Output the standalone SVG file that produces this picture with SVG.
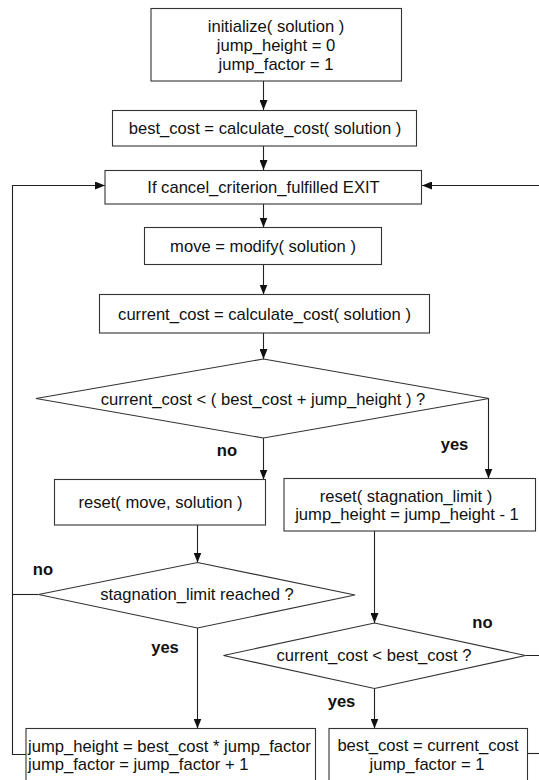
<svg xmlns="http://www.w3.org/2000/svg" width="539" height="780" viewBox="0 0 539 780">
<style>
.box{fill:#fff;stroke:#333;stroke-width:1.1}
.t{font-family:"Liberation Sans",Arial,sans-serif;font-size:16.6px;fill:#111;text-anchor:middle}
.l{text-anchor:start}
.b{font-weight:bold}
.c{fill:none;stroke:#222;stroke-width:1.1}
</style>
<defs>
<marker id="ah" markerUnits="userSpaceOnUse" markerWidth="10" markerHeight="8" refX="10" refY="4" orient="auto">
<path d="M0,0 L10,4 L0,8 z" fill="#111"/>
</marker>
</defs>
<rect width="539" height="780" fill="#fff"/>
<g id="connectors">
<path class="c" d="M263.5,81 V110" marker-end="url(#ah)"/>
<path class="c" d="M263.5,146 V170" marker-end="url(#ah)"/>
<path class="c" d="M263.5,204 V227.5" marker-end="url(#ah)"/>
<path class="c" d="M263.5,264.5 V294.5" marker-end="url(#ah)"/>
<path class="c" d="M263.5,333 V359" marker-end="url(#ah)"/>
<path class="c" d="M263.5,438 V479.5" marker-end="url(#ah)"/>
<path class="c" d="M488.5,398.5 V478.5" marker-end="url(#ah)"/>
<path class="c" d="M197.5,525 V562.5" marker-end="url(#ah)"/>
<path class="c" d="M374.5,531 V623" marker-end="url(#ah)"/>
<path class="c" d="M197.5,628 V728.5" marker-end="url(#ah)"/>
<path class="c" d="M374.5,688.5 V728.5" marker-end="url(#ah)"/>
<path class="c" d="M38.5,594.5 H12.5"/>
<path class="c" d="M26,754.5 H12.5 V185.5 H105" marker-end="url(#ah)"/>
<path class="c" d="M525.5,655.5 H548 V185.5 H422" marker-end="url(#ah)"/>
<path class="c" d="M527.5,753.5 H548"/>
<text class="t b" x="227" y="456">no</text>
<text class="t b" x="454.5" y="450">yes</text>
<text class="t b" x="43" y="575">no</text>
<text class="t b" x="165" y="653">yes</text>
<text class="t b" x="482.5" y="628">no</text>
<text class="t b" x="341.5" y="707">yes</text>
</g>
<g id="init">
<rect class="box" x="151" y="8.5" width="250.5" height="72.5"/>
<text class="t" x="276" y="32">initialize( solution )</text>
<text class="t" x="276" y="51">jump_height = 0</text>
<text class="t" x="276" y="70">jump_factor = 1</text>
</g>
<g id="bestcost">
<rect class="box" x="112.5" y="110.5" width="304" height="35.5"/>
<text class="t" x="265" y="134">best_cost = calculate_cost( solution )</text>
</g>
<g id="cancel">
<rect class="box" x="105" y="170.5" width="316.5" height="33.5"/>
<text class="t" x="263.5" y="193">If cancel_criterion_fulfilled EXIT</text>
</g>
<g id="move">
<rect class="box" x="144.5" y="227.5" width="237" height="37"/>
<text class="t" x="263" y="252">move = modify( solution )</text>
</g>
<g id="current">
<rect class="box" x="99.5" y="294.5" width="330" height="38.5"/>
<text class="t" x="264.5" y="320">current_cost = calculate_cost( solution )</text>
</g>
<g id="dec1">
<polygon class="box" points="263.5,359 489,398.5 263.5,438 36,398.5"/>
<text class="t" x="263" y="405">current_cost &lt; ( best_cost + jump_height ) ?</text>
</g>
<g id="resetmove">
<rect class="box" x="54.5" y="479.5" width="211" height="45.5"/>
<text class="t" x="160.5" y="508">reset( move, solution )</text>
</g>
<g id="resetstag">
<rect class="box" x="284" y="478.5" width="251.5" height="52.5"/>
<text class="t" x="406" y="501.5">reset( stagnation_limit )</text>
<text class="t" x="407" y="519.5">jump_height = jump_height - 1</text>
</g>
<g id="dec3">
<polygon class="box" points="197.5,562.5 355,595 197.5,628 38.5,594.5"/>
<text class="t" x="197" y="600">stagnation_limit reached ?</text>
</g>
<g id="dec2">
<polygon class="box" points="374.5,623 525.5,655.5 374.5,688.5 223.5,655.5"/>
<text class="t" x="374" y="661">current_cost &lt; best_cost ?</text>
</g>
<g id="jump">
<rect class="box" x="26" y="728.5" width="289.5" height="70"/>
<text class="t l" x="28" y="752">jump_height = best_cost * jump_factor</text>
<text class="t l" x="28" y="770">jump_factor = jump_factor + 1</text>
</g>
<g id="improve">
<rect class="box" x="329" y="728.5" width="198.5" height="70"/>
<text class="t" x="428" y="751">best_cost = current_cost</text>
<text class="t" x="427" y="769.5">jump_factor = 1</text>
</g>
</svg>
